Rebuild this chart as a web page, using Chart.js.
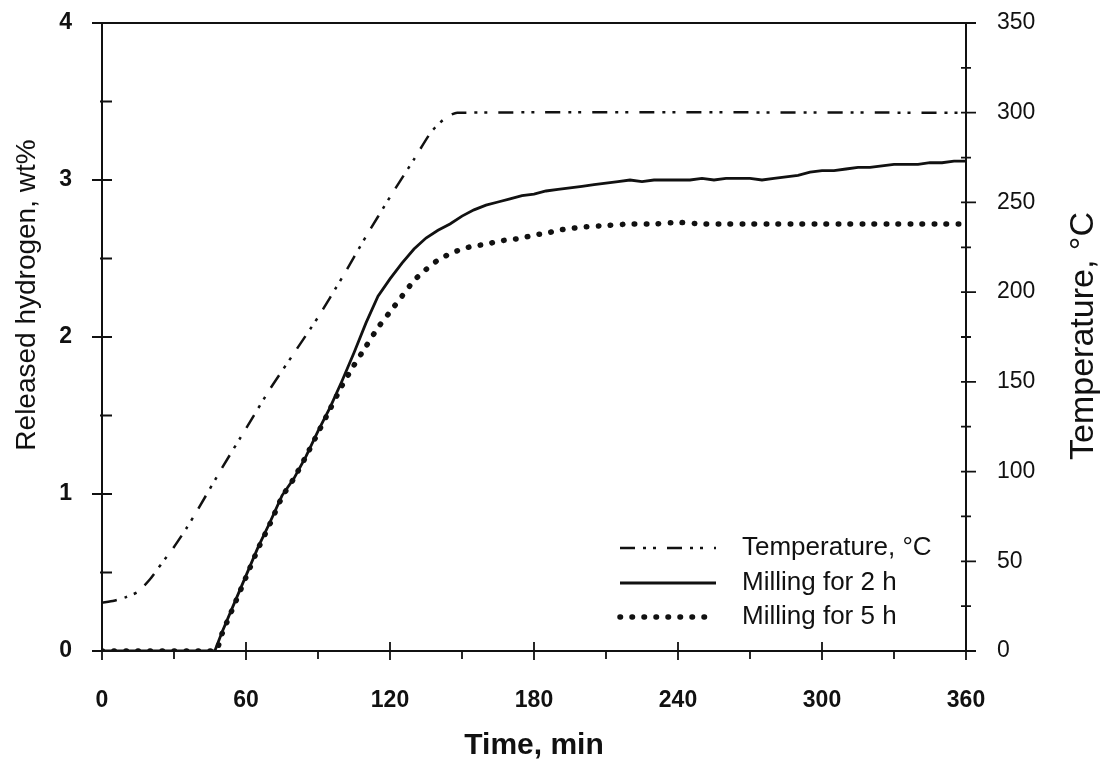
<!DOCTYPE html>
<html>
<head>
<meta charset="utf-8">
<script src="https://cdn.jsdelivr.net/npm/chart.js@4/dist/chart.umd.min.js"></script>
<style>
  html, body { margin: 0; padding: 0; background: #fff; }
  #wrap { width: 1101px; height: 764px; }
</style>
</head>
<body>
<div id="wrap"><canvas id="myChart" width="1101" height="764"></canvas></div>
<script>
// Temperature profile (right axis, °C)
const tempTime = [0, 5, 10, 15, 20, 25, 30, 35, 40, 50, 60, 70, 80, 90, 100, 110, 120, 130, 137, 143, 148, 360];
const tempValue = [27, 28, 30, 33, 40, 49, 58, 68, 79, 102, 124, 146, 166, 186, 208, 231, 253, 274, 289, 297, 300, 300];

// Released hydrogen, milling for 2 h (left axis, wt%)
const time2h = [0, 47, 50, 55, 60, 65, 70, 75, 80, 85, 90, 95, 100, 105, 110, 115, 120, 125, 130, 135, 140, 145, 150, 155, 160, 165, 170, 175, 180, 185, 190, 195, 200, 205, 210, 215, 220, 225, 230, 235, 240, 245, 250, 255, 260, 265, 270, 275, 280, 285, 290, 295, 300, 305, 310, 315, 320, 325, 330, 335, 340, 345, 350, 355, 360];
const value2h = [0, 0, 0.12, 0.30, 0.48, 0.66, 0.82, 0.99, 1.10, 1.24, 1.40, 1.55, 1.72, 1.90, 2.09, 2.26, 2.37, 2.47, 2.56, 2.63, 2.68, 2.72, 2.77, 2.81, 2.84, 2.86, 2.88, 2.90, 2.91, 2.93, 2.94, 2.95, 2.96, 2.97, 2.98, 2.99, 3.00, 2.99, 3.00, 3.00, 3.00, 3.00, 3.01, 3.00, 3.01, 3.01, 3.01, 3.00, 3.01, 3.02, 3.03, 3.05, 3.06, 3.06, 3.07, 3.08, 3.08, 3.09, 3.10, 3.10, 3.10, 3.11, 3.11, 3.12, 3.12];

// Released hydrogen, milling for 5 h (left axis, wt%)
const time5h = [0, 47, 50, 55, 60, 65, 70, 75, 80, 85, 90, 95, 100, 105, 110, 115, 120, 125, 130, 135, 140, 145, 150, 155, 160, 165, 170, 175, 180, 185, 190, 195, 200, 210, 220, 230, 240, 250, 260, 270, 280, 290, 300, 310, 320, 330, 340, 350, 360];
const value5h = [0, 0, 0.11, 0.29, 0.47, 0.65, 0.81, 0.98, 1.10, 1.24, 1.39, 1.54, 1.69, 1.82, 1.94, 2.06, 2.16, 2.26, 2.36, 2.43, 2.49, 2.53, 2.56, 2.58, 2.59, 2.61, 2.62, 2.63, 2.65, 2.66, 2.68, 2.69, 2.70, 2.71, 2.72, 2.72, 2.73, 2.72, 2.72, 2.72, 2.72, 2.72, 2.72, 2.72, 2.72, 2.72, 2.72, 2.72, 2.72];

const seriesLabels = ["Temperature, \u00B0C", "Milling for 2 h", "Milling for 5 h"];
const leftTitle = "Released hydrogen, wt%";
const rightTitle = "Temperature, \u00B0C";
const bottomTitle = "Time, min";

const ink = "#111";

function toPoints(xs, ys) {
  return xs.map((x, i) => ({ x: x, y: ys[i] }));
}

// frame, crossing tick marks, axis titles and the legend
const decorations = {
  id: "decorations",
  afterDraw(chart) {
    const ctx = chart.ctx;
    const area = chart.chartArea;
    const sx = chart.scales.x, sy = chart.scales.y, sy2 = chart.scales.y2;
    ctx.save();
    ctx.strokeStyle = ink;
    ctx.lineWidth = 2;
    ctx.strokeRect(area.left, area.top, area.right - area.left, area.bottom - area.top);

    ctx.lineWidth = 1.8;
    ctx.beginPath();
    sx.ticks.forEach(t => {
      const px = sx.getPixelForValue(t.value);
      const major = t.value % 60 === 0;
      ctx.moveTo(px, area.bottom + (major ? 9 : 8));
      ctx.lineTo(px, area.bottom - (major ? 9 : 0));
    });
    sy.ticks.forEach(t => {
      const py = sy.getPixelForValue(t.value);
      const major = Number.isInteger(t.value);
      ctx.moveTo(area.left - (major ? 10 : 2), py);
      ctx.lineTo(area.left + 10, py);
    });
    sy2.ticks.forEach(t => {
      const py = sy2.getPixelForValue(t.value);
      const major = t.value % 50 === 0;
      ctx.moveTo(area.right - 5, py);
      ctx.lineTo(area.right + (major ? 10 : 5), py);
    });
    ctx.stroke();

    // axis titles
    ctx.fillStyle = ink;
    ctx.textAlign = "center";
    ctx.textBaseline = "middle";
    ctx.font = "28px 'Liberation Sans', Arial, sans-serif";
    ctx.save();
    ctx.translate(27, 295);
    ctx.rotate(-Math.PI / 2);
    ctx.fillText(leftTitle, 0, 0);
    ctx.restore();

    ctx.font = "34px 'Liberation Sans', Arial, sans-serif";
    ctx.save();
    ctx.translate(1084, 336);
    ctx.rotate(-Math.PI / 2);
    ctx.fillText(rightTitle, 0, 0);
    ctx.restore();

    ctx.font = "bold 30px 'Liberation Sans', Arial, sans-serif";
    ctx.fillText(bottomTitle, (area.left + area.right) / 2, 746);

    // legend inside the plot, lower right
    const rows = [548, 583, 617];
    chart.data.datasets.forEach((ds, i) => {
      const y = rows[i];
      ctx.save();
      ctx.strokeStyle = ds.borderColor;
      ctx.lineWidth = ds.borderWidth;
      ctx.lineCap = ds.borderCapStyle || "butt";
      ctx.setLineDash(ds.borderDash || []);
      ctx.beginPath();
      ctx.moveTo(620, y);
      ctx.lineTo(716, y);
      ctx.stroke();
      ctx.restore();
      ctx.textAlign = "left";
      ctx.font = "26px 'Liberation Sans', Arial, sans-serif";
      ctx.fillText(ds.label, 742, y);
    });
    ctx.restore();
  }
};

const tickFont = { family: "'Liberation Sans', Arial, sans-serif", size: 23 };

// keep the plot box where the reference has it
function fixWidth(w) {
  return s => { s.width = w; s.paddingTop = 0; s.paddingBottom = 0; };
}

new Chart(document.getElementById("myChart").getContext("2d"), {
  type: "line",
  data: {
    datasets: [
      {
        label: seriesLabels[0],
        data: toPoints(tempTime, tempValue),
        yAxisID: "y2",
        borderColor: ink,
        borderWidth: 2.5,
        borderDash: [15, 8, 3, 7, 3, 11],
        pointRadius: 0,
        tension: 0.2
      },
      {
        label: seriesLabels[1],
        data: toPoints(time2h, value2h),
        yAxisID: "y",
        borderColor: ink,
        borderWidth: 2.8,
        pointRadius: 0,
        tension: 0
      },
      {
        label: seriesLabels[2],
        data: toPoints(time5h, value5h),
        yAxisID: "y",
        borderColor: ink,
        borderWidth: 5.5,
        borderDash: [0.5, 11.5],
        borderCapStyle: "round",
        pointRadius: 0,
        tension: 0.2
      }
    ]
  },
  options: {
    responsive: false,
    animation: false,
    layout: { padding: { top: 23, left: 0, right: 0, bottom: 0 } },
    plugins: { legend: { display: false }, tooltip: { enabled: false } },
    scales: {
      x: {
        type: "linear",
        min: 0,
        max: 360,
        grid: { display: false },
        border: { display: false },
        ticks: {
          stepSize: 30,
          padding: 28,
          color: ink,
          font: Object.assign({ weight: "bold" }, tickFont),
          maxRotation: 0,
          autoSkip: false,
          callback: v => (v % 60 === 0 ? String(v) : "")
        },
        afterFit: s => { s.height = 113; }
      },
      y: {
        position: "left",
        min: 0,
        max: 4,
        grid: { display: false },
        border: { display: false },
        ticks: {
          stepSize: 0.5,
          padding: 22,
          color: ink,
          font: Object.assign({ weight: "bold" }, tickFont),
          callback: v => (Number.isInteger(v) ? String(v) : "")
        },
        afterFit: fixWidth(102)
      },
      y2: {
        position: "right",
        min: 0,
        max: 350,
        grid: { display: false },
        border: { display: false },
        ticks: {
          stepSize: 25,
          padding: 23,
          color: ink,
          font: tickFont,
          callback: v => (v % 50 === 0 ? String(v) : "")
        },
        afterFit: fixWidth(135)
      }
    }
  },
  plugins: [decorations]
});
</script>
</body>
</html>
